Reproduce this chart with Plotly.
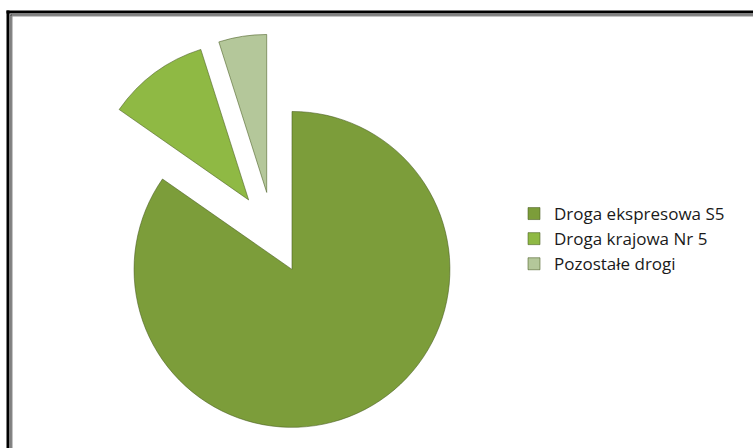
import plotly.graph_objects as go

# Road share data
categories = ["Droga ekspresowa S5", "Droga krajowa Nr 5", "Pozostałe drogi"]
shares = [84.7, 10.4, 4.9]
colors = ["#7c9d3a", "#8fb944", "#b4c79a"]

W, H = 753, 448


def px_x(v):
    return v / W


def px_y(v):
    return 1 - v / H


fig = go.Figure(
    go.Pie(
        labels=categories,
        values=shares,
        sort=False,
        direction="clockwise",
        rotation=0,
        pull=[0.26, 0.26, 0.26],
        textinfo="none",
        marker=dict(colors=colors, line=dict(color="rgba(70,90,30,0.55)", width=1)),
        domain=dict(x=[px_x(74), px_x(472)], y=[px_y(432), px_y(34)]),
    )
)

# Double frame: only the left and top edges fall inside the page
frame = [
    (8, 12, "#000000", 3),
    (11, 15, "#000000", 1),
    (12, 16, "#8c8c8c", 1),
]
shapes = []
for fx, fy, col, lw in frame:
    shapes.append(dict(type="line", xref="paper", yref="paper",
                       x0=px_x(fx), y0=px_y(fy - lw / 2), x1=px_x(fx), y1=0,
                       line=dict(color=col, width=lw)))
    shapes.append(dict(type="line", xref="paper", yref="paper",
                       x0=px_x(fx - lw / 2), y0=px_y(fy), x1=1, y1=px_y(fy),
                       line=dict(color=col, width=lw)))

fig.update_layout(
    width=W,
    height=H,
    margin=dict(l=0, r=0, t=0, b=0),
    paper_bgcolor="white",
    plot_bgcolor="white",
    shapes=shapes,
    showlegend=True,
    legend=dict(
        x=px_x(514), y=px_y(196), xanchor="left", yanchor="top",
        font=dict(family="Open Sans, sans-serif", size=17, color="#1a1a1a"),
        bgcolor="rgba(0,0,0,0)",
    ),
)

# keep the page exactly the size of the figure, without scrollbars
page_css = "document.body.style.margin='0';document.body.style.overflow='hidden';"

fig.write_html("out.html", post_script=page_css, config={"displayModeBar": False})
